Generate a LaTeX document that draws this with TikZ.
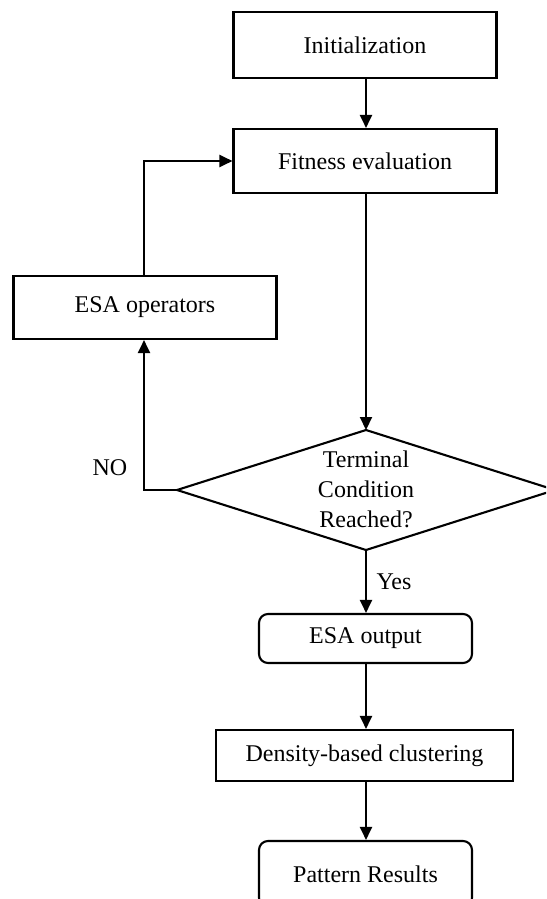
\documentclass[tikz,border=0pt]{standalone}
\usepackage{fontspec}
\setmainfont{Liberation Serif}
\usetikzlibrary{arrows.meta}
\begin{document}
\begin{tikzpicture}[x=1pt,y=1pt,
  every node/.style={font=\fontsize{24}{30}\selectfont},
  boxnode/.style={draw, line width=2.1pt, inner sep=0pt, align=center},
  roundnode/.style={boxnode, rounded corners=9pt},
  conn/.style={line width=2.1pt, -{Triangle[length=13pt,width=12pt]}},
  plainline/.style={line width=2.1pt}
]
\useasboundingbox (0,0) rectangle (546,-899);
\clip (0,0) rectangle (546,-899);

\node[boxnode, minimum width=263pt, minimum height=66pt] (init) at (365,-45) {Initialization};
\node[boxnode, minimum width=263pt, minimum height=64pt] (fit) at (365,-161) {Fitness evaluation};
\node[boxnode, minimum width=263pt, minimum height=63pt] (ops) at (145,-307.5) {ESA operators};

% diamond
\coordinate (dt) at (366,-430);
\coordinate (dr) at (555,-490);
\coordinate (db) at (366,-550);
\coordinate (dl) at (177,-490);
\draw[plainline, line join=miter] (dt) -- (dr) -- (db) -- (dl) -- cycle;
\node[align=center, inner sep=0pt] (dtext) at (366,-489) {Terminal\\Condition\\Reached?};

\node[roundnode, minimum width=213pt, minimum height=49pt] (out) at (365.5,-638.5) {ESA output};
\node[boxnode, minimum width=297pt, minimum height=51pt] (dens) at (364.5,-755.5) {Density-based clustering};
\node[roundnode, minimum width=213pt, minimum height=66pt] (pat) at (365.5,-874) {Pattern Results};

\node (nolab) at (110,-468) {NO};
\node (yeslab) at (394,-582) {Yes};

\draw[conn] (init.south -| 366,0) -- (fit.north -| 366,0);
\draw[conn] (fit.south -| dt) -- (dt);
\draw[conn] (dl) -| (ops.south -| 144,0);
\draw[conn] (ops.north -| 144,0) |- (fit.west);
\draw[conn] (db) -- (out.north -| db);
\draw[conn] (out.south -| db) -- (dens.north -| db);
\draw[conn] (dens.south -| db) -- (pat.north -| db);
\end{tikzpicture}
\end{document}
